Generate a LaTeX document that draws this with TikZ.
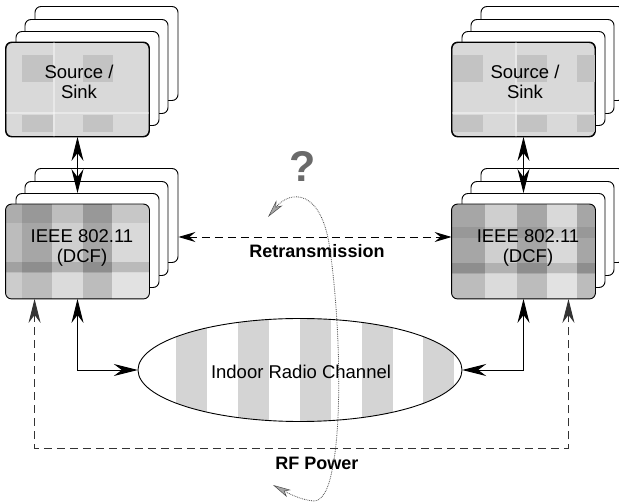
\documentclass[tikz,border=0pt]{standalone}
\usepackage{fontspec}
\setmainfont{Liberation Sans}
\usetikzlibrary{arrows.meta,calc,shapes.geometric}

\definecolor{paper}{HTML}{D9D9D9}
\definecolor{patch}{HTML}{C3C3C3}
\definecolor{bandA}{HTML}{A6A6A6}
\definecolor{bandB}{HTML}{CFCFCF}
\definecolor{bandC}{HTML}{BCBCBC}
\definecolor{stripe}{HTML}{D4D4D4}
\definecolor{qmark}{HTML}{6A6A6A}

\tikzset{
  card/.style={draw=black, line width=0.9pt, rounded corners=6pt,
    minimum width=143pt, minimum height=94pt, inner sep=0pt, fill=white},
  outline/.style={draw=black, line width=0.9pt, rounded corners=6pt},
  txt/.style={font=\fontsize{18.5}{20.5}\selectfont, align=center, inner sep=0pt},
  btxt/.style={font=\bfseries\fontsize{18}{20}\selectfont, inner sep=0pt},
  bigtip/.tip={Stealth[length=24pt,width=12pt,inset=8pt]},
  midtip/.tip={Stealth[length=17pt,width=10pt,inset=6pt]},
  greytip/.tip={Stealth[length=18pt,width=8pt,inset=5pt,fill=black!35,line width=0.5pt]},
  link/.style={line width=0.9pt, bigtip-bigtip},
  dlink/.style={line width=0.9pt, dash pattern=on 8pt off 5pt},
  qcurve/.style={draw=black!70, line width=0.8pt, densely dotted, greytip-greytip},
}

% three blank cards stacked behind a front card centred at (#2,#3)
\newcommand\cardstack[3]{%
  \node[card] (#1d) at (#2+29,#3-36) {};
  \node[card] (#1c) at (#2+19,#3-23) {};
  \node[card] (#1b) at (#2+10,#3-11) {};
}

\begin{document}
\begin{tikzpicture}[x=1pt,y=-1pt]
\useasboundingbox (0,0) rectangle (619,502);

% ---------- left Source / Sink stack
\cardstack{srcL}{77.5}{89.5}
\node[card, fill=paper] (srcL) at (77.5,89.5) {};
\begin{scope}
  \clip[rounded corners=6pt] (srcL.south west) rectangle (srcL.north east);
  \fill[patch] (22,55) rectangle (53,82);
  \fill[patch] (83,55) rectangle (113,82);
  \fill[patch] (22,115) rectangle (53,132);
  \fill[patch] (83,115) rectangle (113,132);
  \fill[white, opacity=0.4] (0,112) rectangle (160,114);
  \fill[white, opacity=0.4] (53,42) rectangle (55,140);
\end{scope}
\path[outline] (srcL.south west) rectangle (srcL.north east);
\node[txt] (srcLt) at (79,82) {Source /\\Sink};

% ---------- right Source / Sink stack
\cardstack{srcR}{523.5}{89.5}
\node[card, fill=paper] (srcR) at (523.5,89.5) {};
\begin{scope}
  \clip[rounded corners=6pt] (srcR.south west) rectangle (srcR.north east);
  \fill[patch] (453,55) rectangle (483,82);
  \fill[patch] (517,55) rectangle (547,82);
  \fill[patch] (577,55) rectangle (600,82);
  \fill[patch] (453,115) rectangle (483,132);
  \fill[patch] (517,115) rectangle (547,132);
  \fill[patch] (577,115) rectangle (600,132);
  \fill[white, opacity=0.4] (440,112) rectangle (600,114);
  \fill[white, opacity=0.4] (515,42) rectangle (517,140);
\end{scope}
\path[outline] (srcR.south west) rectangle (srcR.north east);
\node[txt] (srcRt) at (525,82) {Source /\\Sink};

% ---------- left IEEE 802.11 stack
\cardstack{macL}{77.5}{251.5}
\node[card, fill=bandB] (macL) at (77.5,251.5) {};
\begin{scope}
  \clip[rounded corners=6pt] (macL.south west) rectangle (macL.north east);
  \fill[bandC] (0,200) rectangle (22,300);
  \fill[bandA] (22,200) rectangle (52,300);
  \fill[bandB] (52,200) rectangle (83,300);
  \fill[bandA] (83,200) rectangle (112,300);
  \fill[paper] (112,200) rectangle (160,300);
  \fill[black, opacity=0.08] (0,200) rectangle (160,223);
  \fill[black, opacity=0.14] (0,262) rectangle (160,272);
  \fill[white, opacity=0.25] (0,273) rectangle (160,300);
\end{scope}
\path[outline] (macL.south west) rectangle (macL.north east);
\node[txt] (macLt) at (82,248) {IEEE 802.11\\(DCF)};

% ---------- right IEEE 802.11 stack
\cardstack{macR}{523.5}{251.5}
\node[card, fill=bandB] (macR) at (523.5,251.5) {};
\begin{scope}
  \clip[rounded corners=6pt] (macR.south west) rectangle (macR.north east);
  \fill[bandA] (440,200) rectangle (485,300);
  \fill[bandB] (485,200) rectangle (517,300);
  \fill[bandA] (517,200) rectangle (547,300);
  \fill[paper] (547,200) rectangle (577,300);
  \fill[bandA] (577,200) rectangle (600,300);
  \fill[black, opacity=0.08] (440,227) rectangle (600,238);
  \fill[black, opacity=0.14] (440,263) rectangle (600,273);
  \fill[white, opacity=0.25] (440,274) rectangle (600,300);
\end{scope}
\path[outline] (macR.south west) rectangle (macR.north east);
\node[txt] (macRt) at (528,248) {IEEE 802.11\\(DCF)};

% ---------- radio channel
\node[ellipse, fill=white, minimum width=324pt, minimum height=103pt, inner sep=0pt] (chan) at (300,370) {};
\begin{scope}
  \clip (chan.center) ellipse [x radius=162pt, y radius=51.5pt];
  \foreach \sx in {176,238,300,362,423}
    \fill[stripe] (\sx,300) rectangle (\sx+31,440);
\end{scope}
\draw[line width=0.9pt] (chan.center) ellipse [x radius=162pt, y radius=51.5pt];
\node[txt] (chant) at (301,372) {Indoor Radio Channel};

% ---------- source <-> MAC
\draw[link] (srcL.south) -- (srcL.south |- macLb.north);
\draw[link] (srcR.south) -- (srcR.south |- macRb.north);

% ---------- MAC <-> channel
\draw[link] (macL.south) |- (chan.west);
\draw[link] (macR.south) |- (chan.east);

% ---------- retransmission
\coordinate (rt) at (300,237);
\draw[dlink, midtip-midtip] (macLd.east |- rt) -- (macR.west |- rt);
\node[btxt] (rtlbl) at (317,251) {Retransmission};

% ---------- RF power loop
\coordinate (pwL) at ($(macL.south west)+(29,0)$);
\coordinate (pwR) at ($(macR.south east)+(-27,0)$);
\coordinate (pwB) at (300,448);
\draw[dlink, draw=black!80, bigtip-bigtip] (pwL) -- (pwL |- pwB) -- (pwR |- pwB) -- (pwR);
\node[btxt] (pwlbl) at (317,463) {RF Power};

% ---------- question mark and its loop
\node[font=\bfseries\fontsize{43}{43}\selectfont, text=qmark, inner sep=0pt] (qm) at (303,166) {?};
\coordinate (qa) at (268,217);
\coordinate (qb) at (273,485);
\draw[qcurve] (qa) .. controls (290,190) and (322,188) .. (330,250)
  .. controls (340,320) and (342,420) .. (333,465)
  .. controls (329,490) and (322,501) .. (314,501)
  .. controls (300,500) and (286,492) .. (qb);

\end{tikzpicture}
\end{document}
